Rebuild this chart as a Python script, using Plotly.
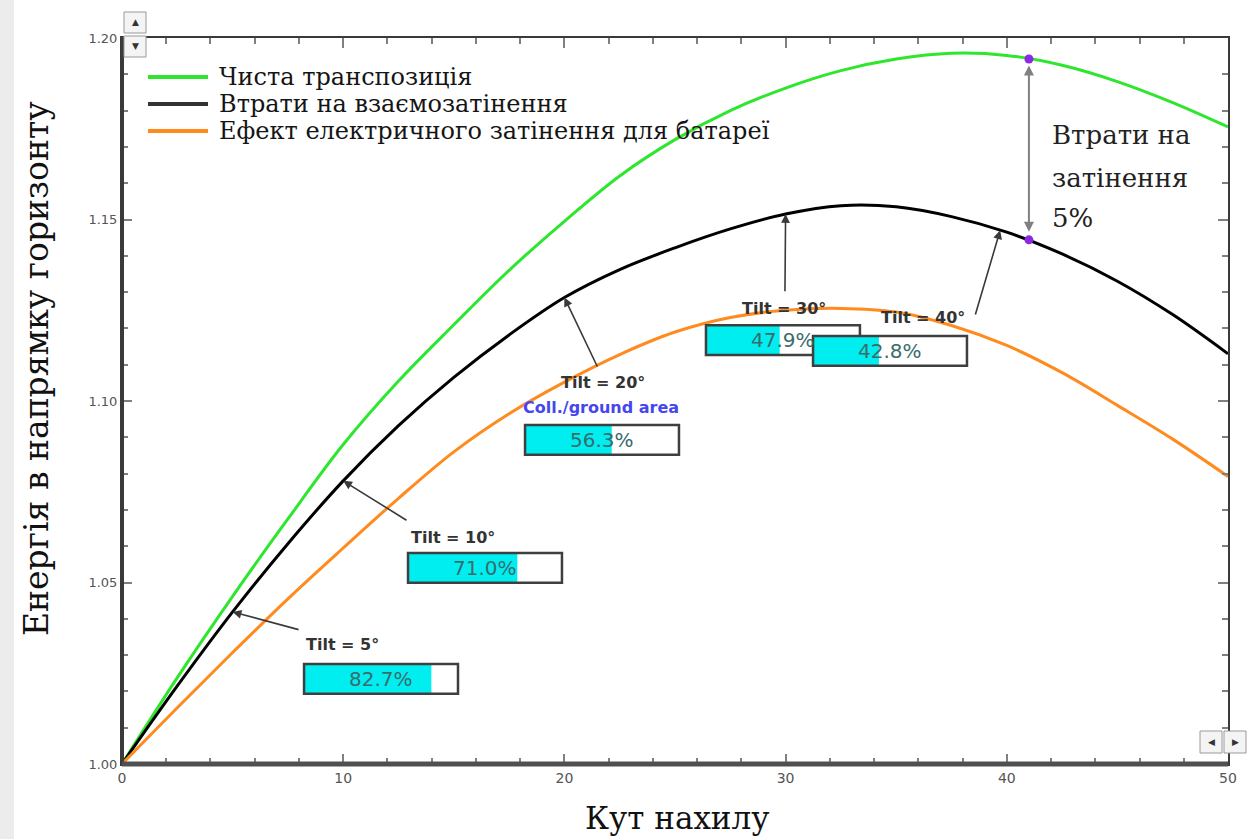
import plotly.graph_objects as go

# ---- data ----
tilt = [0, 2.5, 5, 7.5, 10, 12.5, 15, 17.5, 20, 22.5, 25, 27.5, 30, 32.5, 35, 37.5, 40, 42.5, 45, 47.5, 50]
clean = [1.0, 1.0238, 1.0462, 1.0675, 1.0880, 1.1055, 1.1210, 1.1360, 1.1495, 1.1620, 1.1720, 1.1800,
         1.1862, 1.1910, 1.1942, 1.1958, 1.1952, 1.1925, 1.1880, 1.1822, 1.1755]
mutual = [1.0, 1.0215, 1.0419, 1.0607, 1.0780, 1.0932, 1.1065, 1.1182, 1.1285, 1.1362, 1.1422, 1.1474,
          1.1515, 1.1538, 1.1535, 1.1508, 1.1465, 1.1405, 1.1330, 1.1238, 1.1130]
electric = [1.0, 1.0155, 1.0307, 1.0455, 1.0595, 1.0732, 1.0860, 1.0965, 1.1052, 1.1128, 1.1190, 1.1230,
            1.1250, 1.1255, 1.1245, 1.1208, 1.1153, 1.1078, 1.0988, 1.0895, 1.0792]
series_names = ["Чиста транспозиція", "Втрати на взаємозатінення", "Ефект електричного затінення для батареї"]

label_tilts = [5, 10, 20, 30, 40]
gcr_pct = [82.7, 71.0, 56.3, 47.9, 42.8]
loss_x = 41
loss_top = 1.1942
loss_bottom = 1.1444
loss_lines = ["Втрати на", "затінення", "5%"]

x_ticks = [0, 10, 20, 30, 40, 50]
y_ticks = [1.00, 1.05, 1.10, 1.15, 1.20]

# ---- layout geometry ----
W, H = 1249, 839
ML, MR, MT, MB = 122, 21, 38, 75
PW, PH = W - ML - MR, H - MT - MB


def px(xp):
    return (xp - ML) / PW


def py(yp):
    return (H - MB - yp) / PH


fig = go.Figure()
colors = ["#2EE62E", "#000000", "#FF8A1E"]
for ys, name, c in zip([clean, mutual, electric], series_names, colors):
    fig.add_trace(go.Scatter(x=tilt, y=ys, mode="lines", name=name, showlegend=False,
                             line=dict(color=c, width=3, shape="spline", smoothing=1.0)))

fig.add_trace(go.Scatter(x=[loss_x, loss_x], y=[loss_top, loss_bottom], mode="markers",
                         marker=dict(color="#8A2BE2", size=9), showlegend=False, hoverinfo="skip"))


def mutual_at(xv):
    for i in range(len(tilt) - 1):
        if tilt[i] <= xv <= tilt[i + 1]:
            t = (xv - tilt[i]) / (tilt[i + 1] - tilt[i])
            return mutual[i] + t * (mutual[i + 1] - mutual[i])
    return mutual[-1]


# placement of labels / boxes / arrow tails (data coordinates)
tip_xs = [5, 10, 20, 30, 39.7]
tails = [(8.05, 1.0369), (12.93, 1.0669), (21.52, 1.1091), (29.97, 1.1298), (38.56, 1.1234)]
label_pos = [(9.99, 1.0328), (14.96, 1.0623), (21.74, 1.1050), (29.93, 1.1256), (36.21, 1.1229)]
box_x0 = [8.23, 12.93, 18.22, 26.40, 31.24]
box_ytop = [1.02755, 1.0581, 1.0934, 1.1209, 1.1179]
box_w = 6.96
box_h = 0.0082

anns = []
shapes = []
for i, (tv, pct) in enumerate(zip(label_tilts, gcr_pct)):
    tx = tip_xs[i]
    anns.append(dict(x=tx, y=mutual_at(tx), ax=tails[i][0], ay=tails[i][1],
                     xref="x", yref="y", axref="x", ayref="y", text="",
                     showarrow=True, arrowhead=2, arrowsize=1.1, arrowwidth=1.6,
                     arrowcolor="#3A3A3A"))
    anns.append(dict(x=label_pos[i][0], y=label_pos[i][1], xref="x", yref="y",
                     text="<b>Tilt = %d°</b>" % tv, showarrow=False,
                     font=dict(family="DejaVu Sans", size=16, color="#333333")))
    x0 = box_x0[i]
    y1 = box_ytop[i]
    y0 = y1 - box_h
    shapes.append(dict(type="rect", xref="x", yref="y", x0=x0, x1=x0 + box_w, y0=y0, y1=y1,
                       fillcolor="white", line=dict(width=0), layer="above"))
    shapes.append(dict(type="rect", xref="x", yref="y", x0=x0, x1=x0 + box_w * pct / 100, y0=y0, y1=y1,
                       fillcolor="#00EEF0", line=dict(width=0), layer="above"))
    shapes.append(dict(type="rect", xref="x", yref="y", x0=x0, x1=x0 + box_w, y0=y0, y1=y1,
                       fillcolor="rgba(0,0,0,0)", line=dict(color="#3F3F3F", width=2.5), layer="above"))
    anns.append(dict(x=x0 + box_w / 2, y=(y0 + y1) / 2, xref="x", yref="y",
                     text="%.1f%%" % pct, showarrow=False,
                     font=dict(family="DejaVu Sans", size=20, color="#3A6C6C")))

anns.append(dict(x=21.65, y=1.0981, xref="x", yref="y", text="<b>Coll./ground area</b>",
                 showarrow=False, font=dict(family="DejaVu Sans", size=16, color="#4646F0")))

# double arrow for shading losses
anns.append(dict(x=loss_x, y=loss_top - 0.0018, ax=loss_x, ay=loss_bottom + 0.0018,
                 xref="x", yref="y", axref="x", ayref="y", text="", showarrow=True,
                 arrowhead=2, startarrowhead=2, arrowside="end+start", arrowsize=1,
                 arrowwidth=2, arrowcolor="#808080"))
for txt, yp in zip(loss_lines, [135, 178, 218]):
    anns.append(dict(x=px(1050), y=py(yp), xref="paper", yref="paper", text=txt, showarrow=False,
                     xanchor="left", yanchor="middle",
                     font=dict(family="DejaVu Serif", size=26, color="#222222")))

# legend drawn in the upper-left corner
for name, c, yp in zip(series_names, colors, [77, 104, 131]):
    shapes.append(dict(type="line", xref="paper", yref="paper", x0=px(148), x1=px(208),
                       y0=py(yp), y1=py(yp), line=dict(color=c if c != "#000000" else "#333333", width=4)))
    anns.append(dict(x=px(217), y=py(yp), xref="paper", yref="paper", text=name, showarrow=False,
                     xanchor="left", yanchor="middle",
                     font=dict(family="DejaVu Serif", size=24, color="#151515")))

# axis titles
anns.append(dict(x=px(677), y=py(818), xref="paper", yref="paper", yanchor="middle",
                 text="Кут нахилу", showarrow=False,
                 font=dict(family="DejaVu Serif", size=31, color="#111111")))
anns.append(dict(x=px(36), y=py(369), xref="paper", yref="paper", xanchor="center", yanchor="middle",
                 text="Енергія в напрямку горизонту", showarrow=False, textangle=-90,
                 font=dict(family="DejaVu Serif", size=33, color="#111111")))

# heavier left and bottom frame lines
shapes.append(dict(type="line", xref="paper", yref="paper", x0=0, x1=0, y0=0, y1=1,
                   line=dict(color="#3A3A3A", width=4)))
shapes.append(dict(type="line", xref="paper", yref="paper", x0=0, x1=1, y0=0, y1=0,
                   line=dict(color="#505050", width=5)))

# light strip at the left edge of the picture
shapes.append(dict(type="rect", xref="paper", yref="paper",
                   x0=px(0), x1=px(14), y0=py(H), y1=py(0),
                   fillcolor="#ECECEC", line=dict(width=0), layer="below"))

# little scroll buttons of the original viewer
for (bx0, by0, bx1, by1, sym) in [(124, 12, 146, 33, "▲"), (124, 36, 146, 57, "▼"),
                                   (1200, 731, 1222, 753, "◀"), (1224, 731, 1246, 753, "▶")]:
    shapes.append(dict(type="rect", xref="paper", yref="paper", x0=px(bx0), x1=px(bx1),
                       y0=py(by1), y1=py(by0), fillcolor="#F4F4F4",
                       line=dict(color="#9A9A9A", width=1), layer="above"))
    anns.append(dict(x=px((bx0 + bx1) / 2), y=py((by0 + by1) / 2), xref="paper", yref="paper",
                     xanchor="center", yanchor="middle",
                     text=sym, showarrow=False, font=dict(family="DejaVu Sans", size=9, color="#333333")))

fig.update_layout(
    width=W, height=H,
    margin=dict(l=ML, r=MR, t=MT, b=MB),
    paper_bgcolor="white", plot_bgcolor="white",
    showlegend=False,
    annotations=anns, shapes=shapes,
)
fig.update_xaxes(range=[0, 50], tickvals=x_ticks, ticktext=[str(v) for v in x_ticks],
                 showgrid=False, zeroline=False, showline=True, linecolor="#3A3A3A", linewidth=2,
                 mirror="allticks", ticks="inside", ticklen=10, tickcolor="#808080", tickwidth=2,
                 minor=dict(dtick=2, ticks="inside", ticklen=6, tickcolor="#808080", tickwidth=1.5),
                 tickfont=dict(family="DejaVu Sans", size=14, color="#555555"))
fig.update_yaxes(range=[1.0, 1.2], tickvals=y_ticks, ticktext=["%.2f" % v for v in y_ticks],
                 showgrid=False, zeroline=False, showline=True, linecolor="#3A3A3A", linewidth=2,
                 mirror="allticks", ticks="inside", ticklen=10, tickcolor="#808080", tickwidth=2,
                 minor=dict(dtick=0.01, ticks="inside", ticklen=6, tickcolor="#808080", tickwidth=1.5),
                 tickfont=dict(family="DejaVu Sans", size=13, color="#555555"))

fig.write_html("out.html")
